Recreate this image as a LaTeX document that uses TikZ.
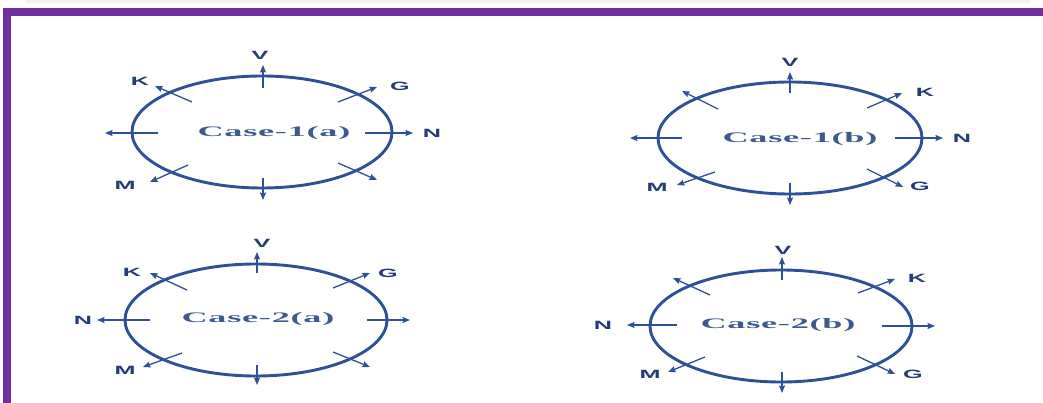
\documentclass[tikz,border=0pt]{standalone}
\usepackage{fontspec}
\usepackage{tikz}
\usetikzlibrary{arrows.meta}
\newfontfamily\casefont[FakeStretch=2.5,LetterSpace=5]{Liberation Serif}
\newfontfamily\lblfont[FakeStretch=2.1]{Liberation Sans}
\definecolor{framepurple}{RGB}{112,48,160}
\definecolor{ringblue}{RGB}{46,80,150}
\definecolor{lblblue}{RGB}{36,60,118}
\definecolor{txtblue}{RGB}{62,90,140}

\begin{document}
\begin{tikzpicture}[x=1pt,y=-1pt,
  ring/.style={draw=ringblue,line width=2.9pt},
  ray/.style={draw=ringblue,line width=1.3pt,-{Stealth[length=7.5pt,width=6pt,inset=1pt]}},
  lbl/.style={font=\lblfont\bfseries\fontsize{12}{12}\selectfont,text=lblblue,inner sep=0pt},
  case/.style={font=\casefont\bfseries\fontsize{14.5}{14.5}\selectfont,text=txtblue,inner sep=0pt},
]
\useasboundingbox (0,0) rectangle (1043,403);
\fill[white] (0,0) rectangle (1043,403);
\fill[gray!10] (25,0) rectangle (1030,3);

% Frame
\fill[framepurple] (3,8) rectangle (1043,16);
\fill[framepurple] (3,8) rectangle (11,403);

% Case-1(a)
\begin{scope}[shift={(262,132)}]
\coordinate (c1a) at (0,0);
\draw[ring] (c1a) ellipse [x radius=130pt,y radius=56pt];
\node[case] (t1a) at (12,1) {Case-1(a)};
\draw[ray] (1,-44) -- (1,-67);
\draw[ray] (1,46) -- (1,68);
\draw[ray] (-104,1) -- (-157,1);
\draw[ray] (103,1) -- (151,1);
\draw[ray] (-70,-30) -- (-107,-46);
\draw[ray] (76,-30) -- (115,-45);
\draw[ray] (-74,33) -- (-112,50);
\draw[ray] (76,31) -- (115,48);
\node[lbl] (v1a) at (-2,-77) {V};
\node[lbl] (n1a) at (170,1) {N};
\node[lbl] (k1a) at (-122,-51) {K};
\node[lbl] (g1a) at (138,-46) {G};
\node[lbl] (m1a) at (-137,53) {M};
\end{scope}

% Case-1(b)
\begin{scope}[shift={(790,138)}]
\coordinate (c1b) at (0,0);
\draw[ring] (c1b) ellipse [x radius=132pt,y radius=56pt];
\node[case] (t1b) at (10,1) {Case-1(b)};
\draw[ray] (0,-45) -- (0,-66);
\draw[ray] (0,45) -- (0,67);
\draw[ray] (-108,0) -- (-160,0);
\draw[ray] (105,0) -- (153,0);
\draw[ray] (-72,-29) -- (-108,-47);
\draw[ray] (77,-30) -- (112,-45);
\draw[ray] (-75,34) -- (-113,47);
\draw[ray] (77,31) -- (113,49);
\node[lbl] (v1b) at (0,-76) {V};
\node[lbl] (n1b) at (172,0) {N};
\node[lbl] (k1b) at (135,-46) {K};
\node[lbl] (g1b) at (130,48) {G};
\node[lbl] (m1b) at (-133,49) {M};
\end{scope}

% Case-2(a)
\begin{scope}[shift={(256,320)}]
\coordinate (c2a) at (0,0);
\draw[ring] (c2a) ellipse [x radius=131pt,y radius=56pt];
\node[case] (t2a) at (2,-1) {Case-2(a)};
\draw[ray] (1,-47) -- (1,-68);
\draw[ray] (1,45) -- (1,65);
\draw[ray] (-106,0) -- (-159,0);
\draw[ray] (111,0) -- (154,0);
\draw[ray] (-69,-30) -- (-106,-47);
\draw[ray] (77,-32) -- (114,-47);
\draw[ray] (-74,33) -- (-113,47);
\draw[ray] (77,32) -- (114,47);
\node[lbl] (v2a) at (6,-77) {V};
\node[lbl] (n2a) at (-173,0) {N};
\node[lbl] (k2a) at (-124,-48) {K};
\node[lbl] (g2a) at (132,-47) {G};
\node[lbl] (m2a) at (-131,50) {M};
\end{scope}

% Case-2(b)
\begin{scope}[shift={(781,326)}]
\coordinate (c2b) at (0,0);
\draw[ring] (c2b) ellipse [x radius=131pt,y radius=56pt];
\node[case] (t2b) at (-3,-1) {Case-2(b)};
\draw[ray] (1,-46) -- (1,-69);
\draw[ray] (1,46) -- (1,67);
\draw[ray] (-104,-1) -- (-154,-1);
\draw[ray] (101,0) -- (154,0);
\draw[ray] (-71,-31) -- (-108,-48);
\draw[ray] (77,-33) -- (114,-47);
\draw[ray] (-76,31) -- (-113,46);
\draw[ray] (76,30) -- (114,48);
\node[lbl] (v2b) at (2,-76) {V};
\node[lbl] (n2b) at (-178,-1) {N};
\node[lbl] (k2b) at (136,-48) {K};
\node[lbl] (g2b) at (132,48) {G};
\node[lbl] (m2b) at (-131,48) {M};
\end{scope}
\end{tikzpicture}
\end{document}
